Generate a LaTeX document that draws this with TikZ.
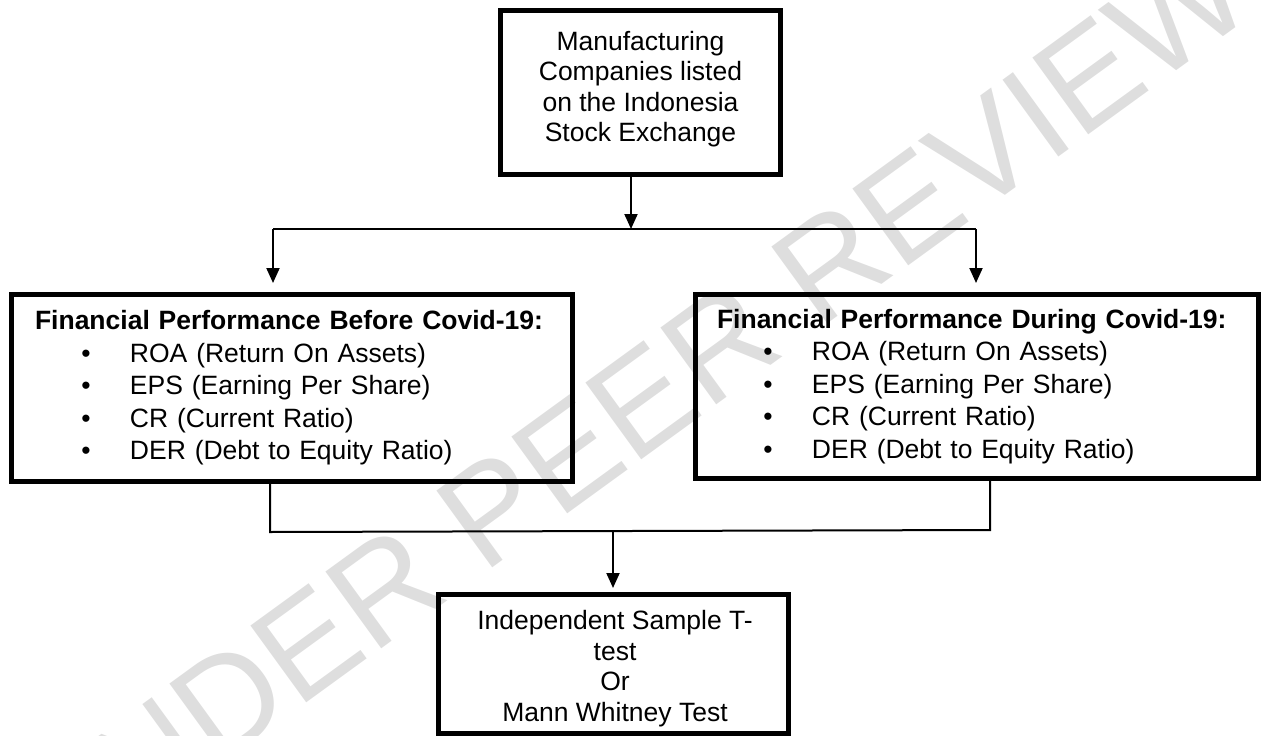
\documentclass[tikz,border=0pt]{standalone}
\usepackage{fontspec}
\setmainfont{Liberation Sans}
\usetikzlibrary{arrows.meta}
\newcommand{\bitem}[1]{\\\hspace*{46.4pt}\makebox[48.6pt][l]{\textbullet}#1}
\begin{document}
\begin{tikzpicture}[x=1pt,y=-1pt,
  box/.style={draw=black, line width=5pt, rectangle, inner sep=0pt},
  conn/.style={line width=2pt, draw=black},
  arrowed/.style={-{Triangle[length=15pt,width=13pt]}},
  txt/.style={font=\fontsize{26.5pt}{30.5pt}\selectfont, align=center},
  listtxt/.style={font=\fontsize{26.5pt}{32.5pt}\selectfont, align=left}]
\useasboundingbox (0,0) rectangle (1261,736);
\clip (0,0) rectangle (1261,736);
% watermark
\node[rotate=36, text=black!13, font=\fontsize{138pt}{138pt}\selectfont] (wm) at (630,410) {UNDER PEER REVIEW};
% top box
\node[box, minimum width=280pt, minimum height=164pt] (top) at (640.5,92.5) {};
\node[txt] (toptext) at ([yshift=3.5pt]top.center) {Manufacturing\\Companies listed\\on the Indonesia\\Stock Exchange};
% left box
\node[box, listtxt, minimum width=561pt, minimum height=187pt, inner xsep=23.5pt, text width=514pt] (before) at (292,388)
  {\textbf{Financial Performance Before Covid-19:}\bitem{ROA (Return On Assets)}\bitem{EPS (Earning Per Share)}\bitem{CR (Current Ratio)}\bitem{DER (Debt to Equity Ratio)}};
% right box
\node[box, listtxt, minimum width=563pt, minimum height=184pt, inner xsep=21.5pt, text width=520pt] (during) at (977,386.5)
  {\textbf{Financial Performance During Covid-19:}\bitem{ROA (Return On Assets)}\bitem{EPS (Earning Per Share)}\bitem{CR (Current Ratio)}\bitem{DER (Debt to Equity Ratio)}};
% bottom box
\node[box, minimum width=350pt, minimum height=139pt] (test) at (613.5,664) {};
\node[txt] (testtext) at ([xshift=1.5pt,yshift=-4.5pt]test.center)
  {Independent Sample T-\\test\\Or\\Mann Whitney Test};
% connectors
\coordinate (hj) at (631,229);
\coordinate (hl) at (273,229);
\coordinate (hr) at (976,229);
\draw[conn, arrowed] (top.south -| hj) -- (hj);
\draw[conn] (hl) -- (hr);
\draw[conn, arrowed] (hl) -- ([yshift=9pt]hl |- before.north);
\draw[conn, arrowed] (hr) -- ([yshift=9pt]hr |- during.north);
\coordinate (bl) at (270,532);
\coordinate (br) at (990,530);
\coordinate (bj) at (613,531);
\draw[conn] (bl |- before.south) -- (bl) -- (br) -- (br |- during.south);
\draw[conn, arrowed] (bj) -- ([yshift=4pt]bj |- test.north);
\end{tikzpicture}
\end{document}
